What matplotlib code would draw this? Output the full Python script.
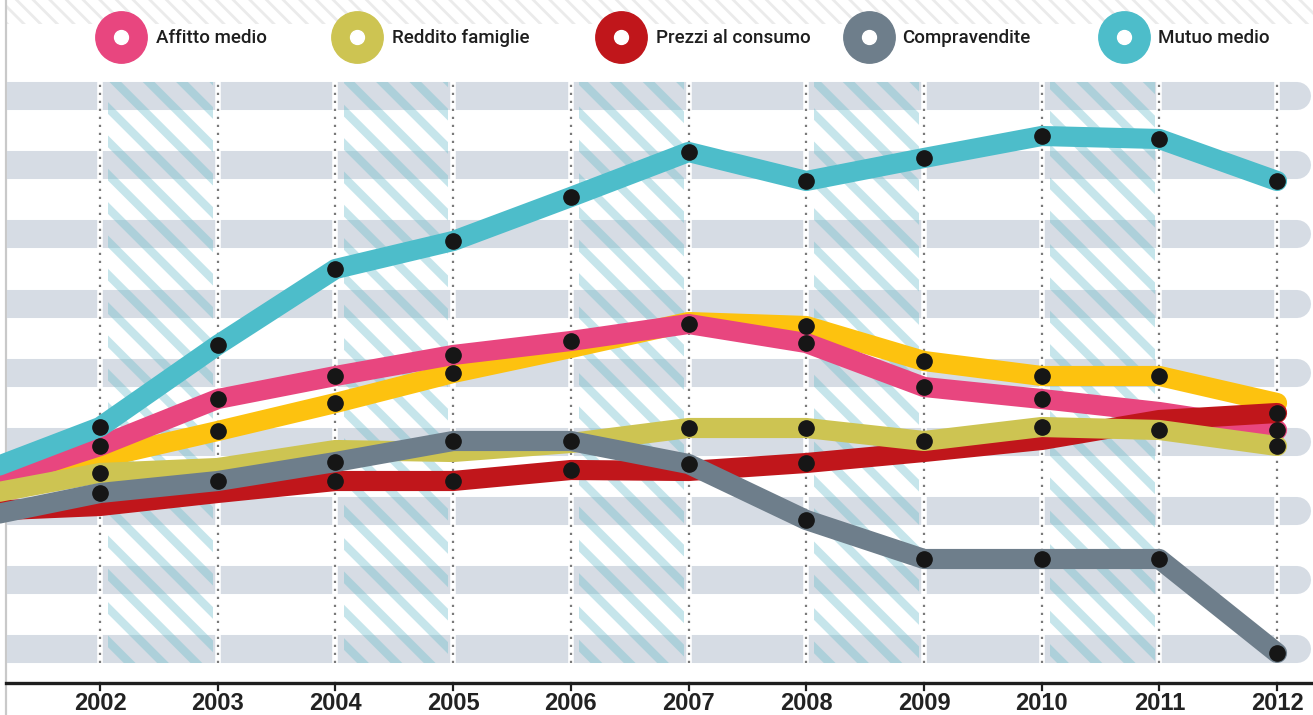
import matplotlib
matplotlib.use('Agg')
import matplotlib.pyplot as plt
from matplotlib.patches import Rectangle

# ---------------- data (index values) ----------------
years = list(range(2001, 2013))
tick_years = list(range(2002, 2013))

mutuo_medio   = [211, 256, 338, 414, 442, 486, 531, 502, 525, 547, 544, 502]
affitto_medio = [199, 237, 284, 307, 328, 342, 359, 340, 296, 284, 271, 253]
serie_oro     = [185, 225, 252, 280, 310, 335, 361, 357, 322, 307, 307, 280]
reddito_fam   = [188, 210, 215, 233, 231, 240, 255, 255, 242, 256, 253, 237]
compravendite = [166, 190, 202, 221, 242, 242, 219, 163, 124, 124, 124, 30]
prezzi_cons   = [172, 177, 190, 202, 202, 213, 212, 220, 231, 243, 263, 270]

mark_mutuo   = list(range(2002, 2013))
mark_affitto = [2002, 2003, 2004, 2005, 2006, 2007, 2008, 2009, 2010, 2012]
mark_oro     = [2003, 2004, 2005, 2008, 2009, 2010, 2011]
mark_reddito = [2002, 2007, 2008, 2009, 2010, 2011, 2012]
mark_compr   = list(range(2002, 2013))
mark_prezzi  = [2004, 2005, 2006, 2008, 2012]

legend_labels = ["Affitto medio", "Reddito famiglie", "Prezzi al consumo",
                 "Compravendite", "Mutuo medio"]

hatch_years = [2002, 2004, 2006, 2008, 2010]

# ---------------- styling ----------------
C_PINK = '#e8467f'
C_GOLD = '#fdc20f'
C_OLIVE = '#cdc452'
C_RED = '#c0161b'
C_GRAY = '#6e7e8b'
C_CYAN = '#4dbdca'
C_BAND = '#d6dce4'

FONT = ['Liberation Sans', 'DejaVu Sans']
LEG_FONT = ['Roboto', 'Liberation Sans', 'DejaVu Sans']

W, H = 1313, 715
PX = 117.7
X0 = 2001.15


def xpx(px):
    return X0 + px / PX


def ypx(py):
    return 683 - py


fig = plt.figure(figsize=(W / 100, H / 100), dpi=100)
ax = fig.add_axes([0, 0, 1, 1])
ax.set_xlim(xpx(0), xpx(W))
ax.set_ylim(ypx(H), ypx(0))
ax.axis('off')

# top faint hatch
top = Rectangle((xpx(6), ypx(24)), xpx(W) - xpx(6), 24,
                facecolor='none', edgecolor='#ebebeb', hatch='\\\\',
                lw=0, zorder=0.5)
if hasattr(top, 'set_hatch_linewidth'):
    top.set_hatch_linewidth(2.0)
ax.add_patch(top)

# left frame line
ax.plot([xpx(6), xpx(6)], [ypx(H), ypx(0)], color='#c9c9c9', lw=1.6, zorder=0.6)

# horizontal bands
for k in range(9):
    yc = 34 + 69.1 * k
    ax.plot([xpx(7), xpx(1290)], [yc, yc], color=C_BAND, lw=20.2,
            solid_capstyle='butt', zorder=1)
    ax.plot([xpx(1280), xpx(1297)], [yc, yc], color=C_BAND, lw=20.2,
            solid_capstyle='round', zorder=1)

# hatched columns
for yr in hatch_years:
    p = Rectangle((yr + 0.07, ypx(663)), 0.89, ypx(82) - ypx(663),
                  facecolor='none', edgecolor=(0.42, 0.74, 0.80, 0.38),
                  hatch='\\', lw=0, zorder=2)
    if hasattr(p, 'set_hatch_linewidth'):
        p.set_hatch_linewidth(6.0)
    ax.add_patch(p)

# dotted vertical lines
for yr in tick_years:
    ax.plot([yr, yr], [ypx(663), ypx(82)], color='white', lw=4, zorder=2.5)
    ax.plot([yr, yr], [ypx(663), ypx(82)], color='#7a7a7a', lw=1.6,
            ls=(0, (1, 2.6)), zorder=3)

# series
series = [
    (serie_oro, C_GOLD, mark_oro, 4),
    (affitto_medio, C_PINK, mark_affitto, 5),
    (prezzi_cons, C_RED, mark_prezzi, 6),
    (reddito_fam, C_OLIVE, mark_reddito, 7),
    (compravendite, C_GRAY, mark_compr, 8),
    (mutuo_medio, C_CYAN, mark_mutuo, 9),
]
for vals, col, marks, z in series:
    ax.plot(years, vals, color=col, lw=14.5, solid_joinstyle='round',
            solid_capstyle='round', zorder=z)
for vals, col, marks, z in series:
    mv = [vals[years.index(m)] for m in marks]
    ax.plot(marks, mv, 'o', ms=11, color='#161616', zorder=20)

# x axis
ax.plot([xpx(6), xpx(W)], [0, 0], color='#1e1e1e', lw=2.4, zorder=21)
for yr in tick_years:
    ax.plot([yr, yr], [0, -7], color='#1e1e1e', lw=1.6, zorder=21)
    ax.text(yr, ypx(704), str(yr), ha='center', va='center', fontsize=17,
            fontweight='bold', color='#222222', family=FONT, zorder=22)

# legend
leg_colors = [C_PINK, C_OLIVE, C_RED, C_GRAY, C_CYAN]
leg_cx = [121, 357, 621, 869, 1124]
leg_tx = [156, 392, 656, 902, 1158]
for lab, col, cx, tx in zip(legend_labels, leg_colors, leg_cx, leg_tx):
    ax.plot([xpx(cx)], [ypx(37)], 'o', ms=37, color=col, zorder=23, clip_on=False)
    ax.plot([xpx(cx)], [ypx(37)], 'o', ms=10, color='white', zorder=24, clip_on=False)
    ax.text(xpx(tx), ypx(38), lab, ha='left', va='center', fontsize=13.5,
            fontweight='medium', color='#1e1e1e', family=LEG_FONT, zorder=24)

fig.savefig('out.png', dpi=100)
